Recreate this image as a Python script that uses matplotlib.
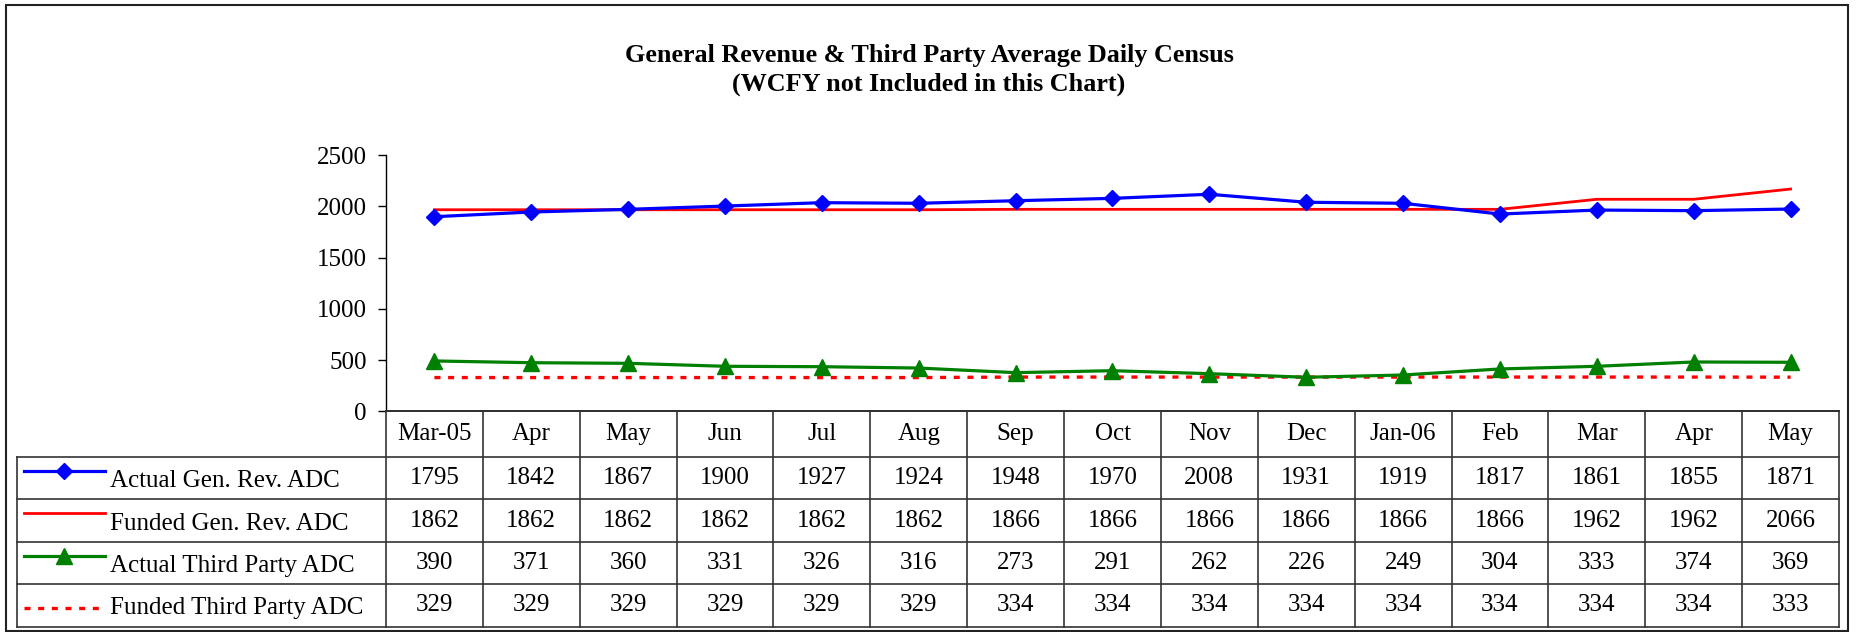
import matplotlib
matplotlib.use('Agg')
import matplotlib.pyplot as plt
from matplotlib.patches import Rectangle

plt.rcParams['font.family'] = ['Liberation Serif', 'DejaVu Serif']

months = ['Mar-05', 'Apr', 'May', 'Jun', 'Jul', 'Aug', 'Sep', 'Oct',
          'Nov', 'Dec', 'Jan-06', 'Feb', 'Mar', 'Apr', 'May']

series_names = ['Actual Gen. Rev. ADC', 'Funded Gen. Rev. ADC',
                'Actual Third Party ADC', 'Funded Third Party ADC']

# numbers printed in the data table
tbl_actual_gr = [1795, 1842, 1867, 1900, 1927, 1924, 1948, 1970, 2008, 1931, 1919, 1817, 1861, 1855, 1871]
tbl_funded_gr = [1862, 1862, 1862, 1862, 1862, 1862, 1866, 1866, 1866, 1866, 1866, 1866, 1962, 1962, 2066]
tbl_actual_tp = [390, 371, 360, 331, 326, 316, 273, 291, 262, 226, 249, 304, 333, 374, 369]
tbl_funded_tp = [329, 329, 329, 329, 329, 329, 334, 334, 334, 334, 334, 334, 334, 334, 333]

# values as drawn by the lines (they sit ~100 above the table for 3 series)
plot_actual_gr = [1898, 1944, 1970, 2002, 2035, 2029, 2054, 2077, 2117, 2039, 2029, 1924, 1963, 1957, 1973]
plot_funded_gr = [1966, 1966, 1966, 1966, 1966, 1966, 1970, 1970, 1970, 1970, 1970, 1970, 2068, 2068, 2168]
plot_actual_tp = [491, 474, 468, 439, 435, 422, 377, 396, 367, 332, 354, 413, 439, 481, 478]
plot_funded_tp = [329, 329, 329, 329, 329, 329, 334, 334, 334, 334, 334, 334, 334, 334, 333]

yticks = [0, 500, 1000, 1500, 2000, 2500]

W, H = 1858, 632
fig = plt.figure(figsize=(W / 100, H / 100), dpi=100)
fs = 18

# layout in pixels
x_left, x_right = 386, 1839
y_top, y_axis = 155, 411.3
row_edges = [411.3, 456.7, 499.3, 542.3, 584.3, 626.7]
leg_left = 16.6
colw = (x_right - x_left) / len(months)

ax = fig.add_axes([x_left / W, 1 - y_axis / H, (x_right - x_left) / W, (y_axis - y_top) / H])
x = list(range(len(months)))

styles = [
    dict(color='#0000ff', lw=2.3, marker='D', ms=8.5, zorder=4),
    dict(color='#ff0000', lw=2.0, zorder=3),
    dict(color='#008000', lw=2.3, marker='^', ms=11, zorder=4),
    dict(color='#ff0000', lw=2.4, dashes=(1.8, 2.3), zorder=2),
]
plotted = [plot_actual_gr, plot_funded_gr, plot_actual_tp, plot_funded_tp]
for vals, st in zip(plotted, styles):
    ax.plot(x, vals, **st)

ax.set_xlim(-0.5, len(months) - 0.5)
ax.set_ylim(0, 2500)
ax.set_yticks(yticks)
ax.set_xticks([])
ax.tick_params(axis='y', length=6, width=1, pad=8, labelsize=fs)
for s in ['top', 'right']:
    ax.spines[s].set_visible(False)
ax.spines['left'].set_linewidth(1)
ax.spines['bottom'].set_linewidth(1.2)

# data table below, x units shared with the plot
tab = fig.add_axes([leg_left / W, 1 - row_edges[-1] / H, (x_right - leg_left) / W,
                    (row_edges[-1] - row_edges[0]) / H])
tab.set_xlim(-0.5 - (x_left - leg_left) / colw, len(months) - 0.5)
tab.set_ylim(row_edges[-1], row_edges[0])
tab.axis('off')
lc = '#333333'
lx0 = -0.5 - (x_left - leg_left) / colw
for i, e in enumerate(row_edges):
    tab.plot([lx0 if i > 0 else -0.5, len(months) - 0.5], [e, e], color=lc, lw=1.2, clip_on=False)
for j in range(len(months) + 1):
    tab.plot([j - 0.5, j - 0.5], [row_edges[0], row_edges[-1]], color=lc, lw=1.2, clip_on=False)
tab.plot([lx0, lx0], [row_edges[1], row_edges[-1]], color=lc, lw=1.2, clip_on=False)

hdr_c = (row_edges[0] + row_edges[1]) / 2
for j, m in enumerate(months):
    tab.text(j, hdr_c, m, ha='center', va='center', fontsize=fs)

tables = [tbl_actual_gr, tbl_funded_gr, tbl_actual_tp, tbl_funded_tp]
key_x0 = -0.5 - (x_left - 23.7) / colw
key_x1 = -0.5 - (x_left - 104.8) / colw
txt_x = -0.5 - (x_left - 110) / colw
for r, (name, vals, st) in enumerate(zip(series_names, tables, styles)):
    top, bot = row_edges[r + 1], row_edges[r + 2]
    c = (top + bot) / 2
    for j, v in enumerate(vals):
        tab.text(j, c, str(v), ha='center', va='center', fontsize=fs)
    ky = c + 2.5 if r == 3 else top + 14
    kst = dict(st)
    kst.pop('zorder', None)
    tab.plot([key_x0, key_x1], [ky, ky], clip_on=False, **{k: v for k, v in kst.items() if k != 'marker'})
    if 'marker' in kst:
        tab.plot([(key_x0 + key_x1) / 2], [ky], marker=kst['marker'], ms=kst['ms'],
                 color=kst['color'], ls='none', clip_on=False)
    tab.text(txt_x, c + 3, name, ha='left', va='center', fontsize=fs)

fig.text(0.5, 1 - 70 / H, 'General Revenue & Third Party Average Daily Census\n(WCFY not Included in this Chart)',
         ha='center', va='center', fontsize=18.8, fontweight='bold', linespacing=1.35)

fig.patches.append(Rectangle((6 / W, 1 - 631 / H), (1848 - 6) / W, (631 - 5) / H,
                             transform=fig.transFigure, fill=False, edgecolor='#222222', lw=1.5))

fig.savefig('out.png', dpi=100)
